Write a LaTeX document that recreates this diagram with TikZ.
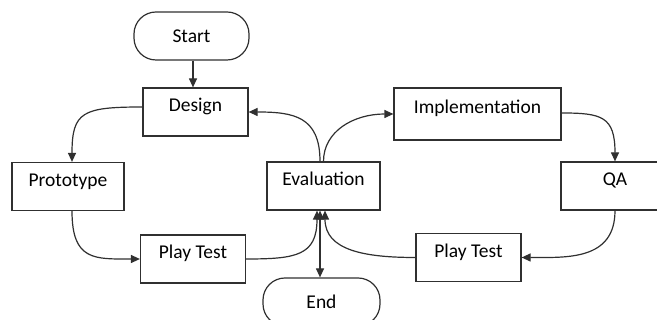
\documentclass[tikz,border=0pt]{standalone}
\usepackage{fontspec}
\setmainfont{Carlito}
\usetikzlibrary{arrows.meta}
\definecolor{edge}{HTML}{303030}
\begin{document}
\begin{tikzpicture}[x=1pt,y=1pt,
    every node/.style={font=\fontsize{19.5pt}{23pt}\selectfont,inner xsep=0pt},
    box/.style={draw=edge,line width=1.2pt,text height=24pt,text depth=24pt,inner ysep=0pt},
    term/.style={draw=edge,line width=1.2pt,rounded corners=22pt,minimum width=115pt,
      minimum height=48pt},
    flow/.style={draw=edge,line width=1.2pt,->},
    >={Triangle[length=9pt,width=8pt]}]
  \useasboundingbox(0,0)rectangle(657,320);
  \clip(0,0)rectangle(657,320);
  \node[term](start)at(191.5,284){Start};
  \node[box,minimum width=105pt](design)at(195.5,208){Design};
  \node[box,minimum width=167pt,text height=26pt,text depth=26pt](impl)at(477.5,206)
    {Implementation};
  \node[box,minimum width=112pt](proto)at(68,133.5){Prototype};
  \node[box,minimum width=113pt](eval)at(323.5,134){Evaluation};
  \node[box,minimum width=108pt](qa)at(615,134){QA};
  \node[box,minimum width=105pt](test1)at(193,61){Play Test};
  \node[box,minimum width=105pt](test2)at(468.5,62.5){Play Test};
  \node[term,minimum width=117pt](finish)at(321.5,18){End};
  \draw[flow]([xshift=1.5pt]start.south)--([xshift=1.5pt]start.south|-design.north);
  \draw[flow]([yshift=5pt]design.west)..controls +(-60,0) and +(0,50)..([xshift=4pt]proto.north);
  \draw[flow]([xshift=4pt]proto.south)..controls +(0,-50) and +(-45,0)..(test1.west);
  \draw[flow](test1.east)..controls +(50,0) and +(0,-45)..([xshift=-6.5pt]eval.south);
  \draw[flow]([xshift=-3.5pt]eval.north)..controls +(0,45) and +(45,0)..(design.east);
  \draw[flow](eval.north)..controls +(0,30) and +(-40,0)..(impl.west);
  \draw[flow]([yshift=1pt]impl.east)..controls +(40,0) and +(0,45)..(qa.north);
  \draw[flow](qa.south)..controls +(0,-50) and +(45,0)..(test2.east);
  \draw[flow](test2.west)..controls +(-50,0) and +(0,-40)..([xshift=1.5pt]eval.south);
  \draw[flow,<->]([xshift=-3.5pt]eval.south)--([xshift=-3.5pt]eval.south|-finish.north);
\end{tikzpicture}
\end{document}
